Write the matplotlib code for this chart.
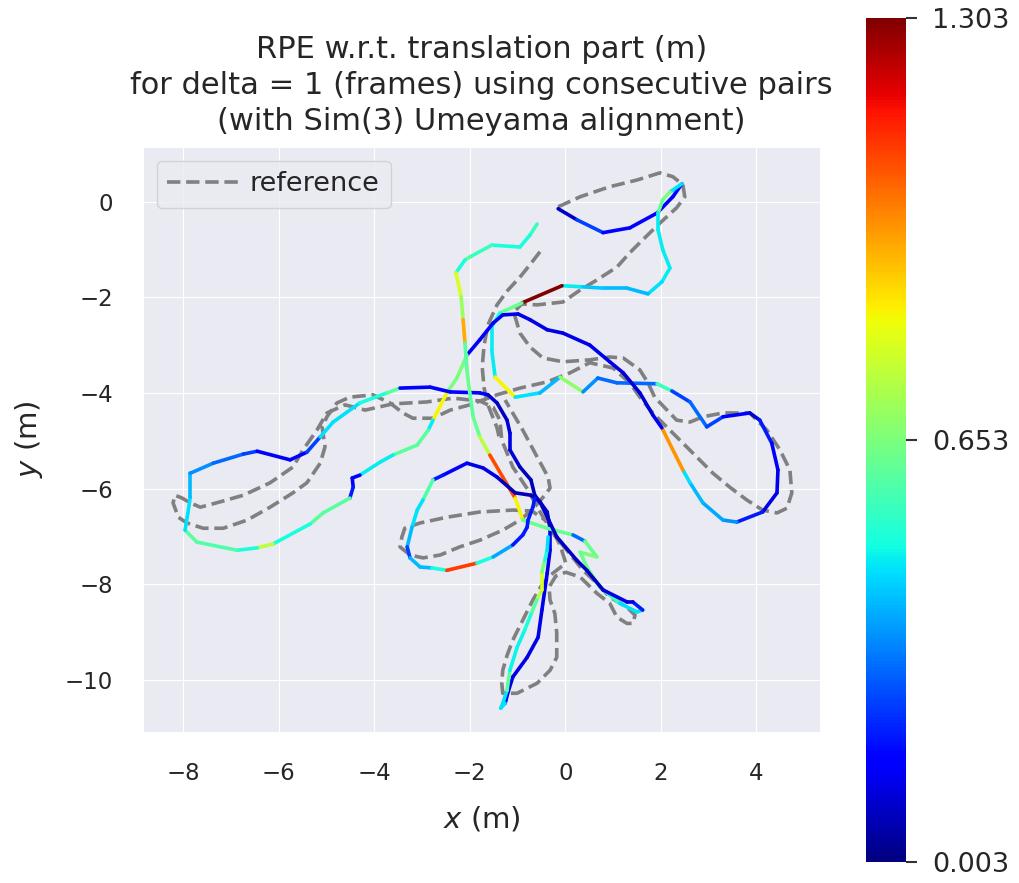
import numpy as np
import matplotlib
matplotlib.use("Agg")
import matplotlib.pyplot as plt
from matplotlib.collections import LineCollection
import seaborn as sns

# Trayectoria estimada, tramo 1 (x, y en metros) y error RPE por segmento
est1_x = [-0.15, 0.24, 0.79, 1.35, 1.92, 2.25, 2.44, 2.19, 2.04, 1.94, 1.94, 2.04, 2.19, 2.02, 1.73,
          1.29, 0.79, 0.31, -0.07, -0.91, -1.37, -1.54, -1.54, -1.47, -1.05, -0.53, -0.11, 0.37, 0.68,
          1.08, 1.92, 2.23, 2.61, 2.96, 3.30, 3.86, 4.07, 4.32, 4.45, 4.43, 4.13, 3.59, 3.30, 2.88,
          2.61, 2.46, 2.02, 1.83, 1.56, 1.21, 0.93, 0.51, -0.05, -0.38, -0.74, -0.99, -1.31, -1.51,
          -1.79, -2.06, -2.27, -2.48, -2.77, -2.87, -3.10, -3.61, -3.88, -4.30, -4.46, -4.44, -4.51,
          -5.07, -5.34, -6.12, -6.45, -6.87, -7.71, -7.96, -7.90, -7.85, -7.85, -7.37, -6.74, -6.45,
          -5.76, -5.41, -5.13, -4.86, -4.30, -3.73, -3.46, -2.83, -2.41, -1.79, -1.62, -1.43, -1.22,
          -1.16, -1.16, -0.95, -0.72, -0.64, -0.53, -0.38, -0.32, -0.32, -0.38, -0.49, -0.57, -0.80,
          -1.10, -1.20, -1.26, -1.35, -1.31, -1.22, -1.16, -1.01, -0.85, -0.70, -0.57, -0.49, -0.49,
          -0.43, -0.38, -0.36]
est1_y = [-0.15, -0.38, -0.65, -0.55, -0.24, 0.10, 0.37, 0.20, 0.04, -0.24, -0.59, -1.01, -1.39,
          -1.68, -1.93, -1.81, -1.81, -1.78, -1.76, -2.12, -2.33, -2.62, -3.10, -3.67, -4.09, -4.00,
          -3.67, -3.98, -3.69, -3.79, -3.81, -3.96, -4.19, -4.71, -4.50, -4.42, -4.57, -5.05, -5.61,
          -6.09, -6.49, -6.70, -6.66, -6.30, -5.88, -5.61, -4.73, -4.46, -4.00, -3.58, -3.35, -3.00,
          -2.75, -2.68, -2.47, -2.35, -2.37, -2.54, -2.89, -3.21, -3.69, -4.00, -4.57, -4.78, -5.09,
          -5.30, -5.45, -5.72, -5.78, -5.97, -6.20, -6.51, -6.74, -7.16, -7.24, -7.29, -7.12, -6.87,
          -6.51, -6.18, -5.68, -5.47, -5.28, -5.22, -5.40, -5.24, -4.92, -4.61, -4.21, -4.00, -3.90,
          -3.88, -3.98, -4.00, -4.04, -4.21, -4.57, -4.84, -5.19, -5.55, -5.82, -6.14, -6.28, -6.49,
          -6.81, -7.29, -7.77, -8.54, -9.11, -9.53, -9.94, -10.26, -10.49, -10.59, -10.49, -10.22,
          -9.80, -9.32, -8.96, -8.58, -8.27, -8.12, -7.75, -7.50, -7.29, -7.01]
est1_err = [0.08, 0.25, 0.15, 0.15, 0.15, 0.15, 0.45, 0.65, 0.62, 0.47, 0.47, 0.47, 0.47, 0.45, 0.40,
            0.40, 0.42, 0.47, 1.30, 0.62, 0.50, 0.47, 0.47, 0.85, 0.45, 0.40, 0.68, 0.35, 0.30, 0.30,
            0.55, 0.25, 0.30, 0.25, 0.15, 0.10, 0.20, 0.15, 0.12, 0.12, 0.20, 0.35, 0.38, 0.40, 0.45,
            0.98, 0.15, 0.10, 0.10, 0.12, 0.12, 0.12, 0.12, 0.12, 0.12, 0.12, 0.15, 0.15, 0.15, 0.65,
            0.65, 0.85, 0.47, 0.60, 0.60, 0.47, 0.47, 0.15, 0.15, 0.20, 0.60, 0.60, 0.50, 0.75, 0.50,
            0.58, 0.60, 0.45, 0.45, 0.40, 0.35, 0.30, 0.25, 0.15, 0.15, 0.25, 0.45, 0.45, 0.50, 0.60,
            0.15, 0.15, 0.15, 0.15, 0.10, 0.08, 0.10, 0.12, 0.10, 0.07, 0.07, 0.07, 0.10, 0.10, 0.12,
            0.12, 0.12, 0.12, 0.12, 0.12, 0.12, 0.12, 0.45, 0.45, 0.45, 0.60, 0.48, 0.48, 0.50, 0.60,
            0.75, 0.80, 0.65, 0.50, 0.45]

# Trayectoria estimada, tramo 2
est2_x = [-0.59, -0.74, -0.95, -1.54, -2.00, -2.10, -2.29, -2.18, -2.14, -2.10, -2.06, -2.00, -1.93,
          -1.79, -1.58, -1.05, -0.89, -0.38, 0.16, 0.41, 0.66, 0.31, 0.45, 0.72, 1.14, 1.50, 1.62,
          1.41, 1.29, 0.79, 0.45, 0.24, -0.18, -0.53, -0.72, -1.05, -1.43, -1.72, -2.06, -2.56, -2.77,
          -2.98, -3.10, -3.21, -3.31, -3.25, -3.04, -2.79, -2.48, -1.85, -1.51, -1.10, -0.89, -0.80,
          -0.78, -0.68, -0.64]
est2_y = [-0.47, -0.70, -0.95, -0.91, -1.16, -1.22, -1.49, -1.99, -2.47, -2.96, -3.52, -4.00, -4.50,
          -4.92, -5.30, -6.20, -6.66, -6.83, -6.97, -7.10, -7.43, -7.33, -7.64, -8.06, -8.40, -8.58,
          -8.54, -8.37, -8.37, -8.12, -7.71, -7.50, -7.01, -6.28, -6.14, -6.09, -5.76, -5.57, -5.47,
          -5.72, -5.82, -6.24, -6.45, -6.81, -7.22, -7.45, -7.64, -7.66, -7.71, -7.56, -7.43, -7.18,
          -6.97, -6.81, -6.66, -6.39, -6.20]
est2_err = [0.55, 0.50, 0.50, 0.55, 0.60, 0.50, 0.80, 0.70, 0.95, 0.60, 0.62, 0.60, 0.62, 0.75,
            1.08, 0.85, 0.62, 0.62, 0.30, 0.62, 0.65, 0.62, 0.62, 0.55, 0.45, 0.45, 0.20, 0.10, 0.12,
            0.08, 0.08, 0.08, 0.08, 0.07, 0.07, 0.07, 0.12, 0.12, 0.15, 0.20, 0.58, 0.45, 0.45, 0.40,
            0.25, 0.40, 0.40, 0.50, 1.10, 0.50, 0.38, 0.20, 0.20, 0.20, 0.20, 0.20]

# Trayectoria de referencia (dos tramos)
ref1_x = [-0.15, 0.31, 0.93, 1.50, 1.98, 2.25, 2.46, 2.50, 2.33, 1.98, 1.62, 1.35, 1.08, 0.66, 0.31,
          -0.05, -0.59, -0.91, -1.08, -0.95, -0.74, -0.47, -0.05, 0.51, 0.93, 1.21, 1.56, 1.73, 1.87,
          2.13, 2.33, 2.61, 2.88, 3.30, 3.86, 4.22, 4.49, 4.70, 4.74, 4.64, 4.43, 4.13, 3.80, 3.44,
          3.09, 2.75, 2.40, 2.04, 1.83, 1.56, 1.35, 1.00, 0.51, 0.10, -0.38, -0.95, -1.43, -2.00,
          -2.41, -2.77, -3.19, -3.40, -3.67, -4.03, -4.51, -4.78, -4.99, -5.09, -5.03, -5.13, -5.41,
          -5.70, -6.18, -6.66, -7.16, -7.58, -7.92, -8.10, -8.21, -8.17, -8.02, -7.85, -7.64, -7.23,
          -6.74, -6.18, -5.70, -5.49, -5.20, -4.99, -4.61, -4.19, -3.61, -2.90, -2.35, -1.79, -1.51,
          -1.37, -1.33, -1.10, -0.78, -0.59, -0.26, 0.03, 0.37, 0.66, 0.93, 1.29, 1.46, 1.41, 1.29,
          1.08, 0.93, 0.66, 0.31, 0.01, -0.20, -0.34, -0.32, -0.22, -0.18, -0.18, -0.32, -0.59, -1.01,
          -1.31, -1.33, -1.31, -1.22, -1.10, -0.89, -0.68, -0.47, -0.26, 0.01, -0.11, -0.36, -0.70,
          -1.10, -1.79, -2.48, -3.04, -3.36, -3.42, -3.46, -3.25, -2.98, -2.62, -2.21, -1.79, -1.31,
          -0.95, -0.70, -0.43, -0.32, -0.36, -0.59, -0.89, -1.10, -1.26]
ref1_y = [-0.11, 0.10, 0.31, 0.45, 0.60, 0.52, 0.35, 0.10, -0.13, -0.45, -0.80, -1.07, -1.37, -1.64,
          -1.85, -2.10, -2.16, -2.14, -2.31, -2.75, -3.04, -3.27, -3.35, -3.31, -3.25, -3.27, -3.52,
          -3.79, -4.09, -4.36, -4.57, -4.61, -4.50, -4.42, -4.42, -4.78, -5.19, -5.61, -6.09, -6.41,
          -6.51, -6.45, -6.24, -5.97, -5.68, -5.34, -4.99, -4.63, -4.42, -4.09, -3.79, -3.48, -3.37,
          -3.58, -3.77, -3.90, -4.04, -4.25, -4.36, -4.53, -4.53, -4.42, -4.21, -4.04, -4.09, -4.21,
          -4.50, -4.71, -5.13, -5.47, -5.88, -6.09, -6.39, -6.66, -6.83, -6.83, -6.72, -6.60, -6.30,
          -6.14, -6.20, -6.30, -6.39, -6.28, -6.14, -5.88, -5.55, -5.19, -4.78, -4.42, -4.25, -4.36,
          -4.23, -4.19, -4.11, -4.17, -4.30, -4.57, -4.99, -5.55, -6.03, -6.39, -6.93, -7.29, -7.71,
          -7.98, -8.27, -8.48, -8.65, -8.82, -8.82, -8.69, -8.40, -8.19, -7.85, -7.75, -7.83, -8.06,
          -8.33, -8.61, -9.02, -9.53, -9.80, -10.07, -10.28, -10.28, -10.07, -9.80, -9.49, -9.17,
          -8.75, -8.33, -7.98, -7.77, -7.56, -7.18, -6.70, -6.47, -6.45, -6.49, -6.60, -6.72, -6.83,
          -7.01, -7.22, -7.39, -7.45, -7.39, -7.22, -7.08, -6.87, -6.66, -6.45, -6.14, -5.99, -5.76,
          -5.34, -4.78, -4.42, -4.15]
ref2_x = [-0.53, -0.74, -0.95, -1.20, -1.43, -1.62, -1.70, -1.74, -1.70, -1.62, -1.43, -1.37]
ref2_y = [-1.05, -1.32, -1.58, -1.85, -2.16, -2.58, -3.00, -3.46, -3.90, -4.25, -4.73, -4.99]

err_min, err_max = 0.003, 1.303
x_ticks = [-8, -6, -4, -2, 0, 2, 4]
y_ticks = [0, -2, -4, -6, -8, -10]


def segmentos(xs, ys):
    pts = np.column_stack([xs, ys])
    return np.stack([pts[:-1], pts[1:]], axis=1)


sns.set_style("darkgrid")
plt.rcParams['font.family'] = ['DejaVu Sans']

fig = plt.figure(figsize=(10.19, 8.83), dpi=100)
ax = fig.add_axes([0.1403, 0.171, 0.6644, 0.6625])

ax.plot(ref1_x, ref1_y, '--', color='grey', lw=2.6, label='reference', zorder=2)
ax.plot(ref2_x, ref2_y, '--', color='grey', lw=2.6, zorder=2)

norm = plt.Normalize(err_min, err_max)
for xs, ys, err in [(est1_x, est1_y, est1_err), (est2_x, est2_y, est2_err)]:
    lc = LineCollection(segmentos(xs, ys), cmap='jet', norm=norm, linewidths=2.6, zorder=3)
    lc.set_array(np.array(err))
    lc.set_capstyle('round')
    ax.add_collection(lc)

ax.set_xlim(-8.84, 5.33)
ax.set_ylim(-11.09, 1.14)
ax.set_xticks(x_ticks)
ax.set_yticks(y_ticks)
ax.tick_params(labelsize=16.5, pad=18)
ax.set_xlabel('$x$ (m)', fontsize=21, labelpad=14)
ax.set_ylabel('$y$ (m)', fontsize=21, labelpad=14)
ax.set_title('RPE w.r.t. translation part (m)\nfor delta = 1 (frames) using consecutive pairs\n'
             '(with Sim(3) Umeyama alignment)', fontsize=22, pad=12, linespacing=1.32)
ax.legend(loc='upper left', fontsize=19.5, handlelength=2.6, handletextpad=0.45)

cax = fig.add_axes([0.850, 0.024, 0.039, 0.956])
sm = plt.cm.ScalarMappable(norm=norm, cmap='jet')
cb = fig.colorbar(sm, cax=cax)
cb.set_ticks([err_min, (err_min + err_max) / 2, err_max])
cb.set_ticklabels(['{:.3f}'.format(v) for v in [err_min, (err_min + err_max) / 2, err_max]])
cb.outline.set_visible(False)
cax.tick_params(labelsize=19.5, length=8, width=1.5, pad=11, color='0.2', direction='out', right=True)

fig.savefig('out.png', dpi=100)
